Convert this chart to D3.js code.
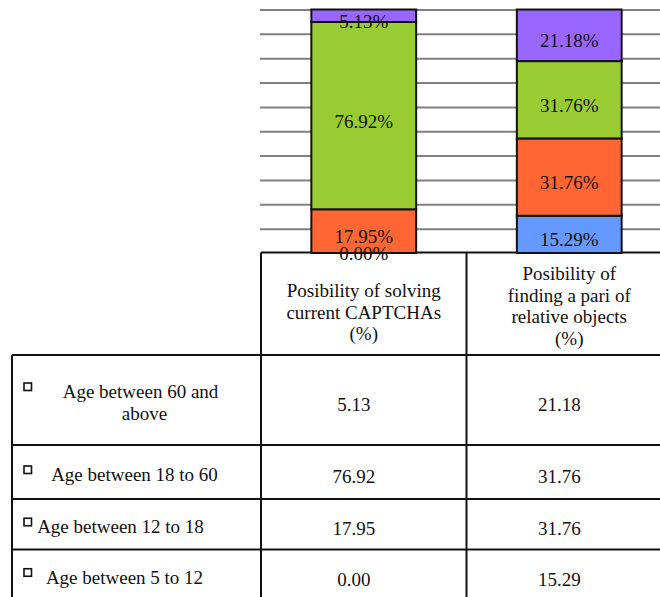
<!DOCTYPE html>
<html>
<head>
<meta charset="utf-8">
<script src="https://cdn.jsdelivr.net/npm/d3@7/dist/d3.min.js"></script>
<style>
  html, body { margin: 0; padding: 0; background: #ffffff; }
  svg { display: block; }
  text { font-family: "Liberation Serif", "Times New Roman", serif; fill: #111; }
</style>
</head>
<body>
<svg id="chart" width="660" height="597" font-family="Liberation Serif, Times New Roman, serif"></svg>
<script>
// ---- data ----
const categories = [
  "Posibility of solving current CAPTCHAs (%)",
  "Posibility of finding a pari of relative objects (%)"
];
const categoryLines = [
  ["Posibility of solving", "current CAPTCHAs", "(%)"],
  ["Posibility of", "finding a pari of", "relative objects", "(%)"]
];
// age groups, listed as in the table (top row first)
const ageGroups = [
  "Age between 60 and above",
  "Age between 18 to 60",
  "Age between 12 to 18",
  "Age between 5 to 12"
];
const ageGroupLines = [
  ["Age between 60 and", "above"],
  ["Age between 18 to 60"],
  ["Age between 12 to 18"],
  ["Age between 5 to 12"]
];
const captchaValues = [5.13, 76.92, 17.95, 0.00];
const pairValues    = [21.18, 31.76, 31.76, 15.29];
const groupColors   = ["#9966FF", "#99CC33", "#FF6633", "#6699FF"];
const yTicks        = [10, 20, 30, 40, 50, 60, 70, 80, 90, 100];

// ---- layout ----
const W = 660;
const plotTop = 9.5, plotBottom = 253;
const gridLeft = 260;
const tableLeft = 12;
const headerTop = 252.5;
const rowEdges = [355, 445, 499, 549.5, 600];
const headerShift = [6, 0];
const labelShift = [4, -2, -16, -12];
const lineH = 21.5;
const fontSize = 19;

const svg = d3.select("#chart");

const seriesByCategory = [captchaValues, pairValues];
const rows = categories.map((c, i) => {
  const r = { category: c };
  ageGroups.forEach((g, j) => { r[g] = seriesByCategory[i][j]; });
  return r;
});

const x = d3.scaleBand()
  .domain(categories)
  .range([261, 672])
  .paddingInner(0.49)
  .paddingOuter(0.245);

const y = d3.scaleLinear().domain([0, 100]).range([plotBottom, plotTop]);

const colLeft = c => x(c) - (x.step() - x.bandwidth()) / 2;
const colCenter = c => x(c) + x.bandwidth() / 2;
const tableRight = colLeft(categories[categories.length - 1]) + x.step();

// ---- gridlines ----
const grid = svg.append("g")
  .attr("transform", `translate(${gridLeft},0)`)
  .call(d3.axisLeft(y).tickValues(yTicks).tickSize(-(W - gridLeft)).tickFormat(""));
grid.select(".domain").remove();
grid.selectAll(".tick line").attr("stroke", "#808080").attr("stroke-width", 2);

// ---- table ----
const tbl = svg.append("g").attr("stroke", "#111").attr("stroke-width", 2).attr("fill", "none");
const colEdges = categories.map(colLeft).concat([tableRight]);

// header row (no cell above the label column)
tbl.append("line").attr("x1", colEdges[0]).attr("x2", tableRight)
  .attr("y1", headerTop).attr("y2", headerTop);
colEdges.forEach(cx => {
  tbl.append("line").attr("x1", cx).attr("x2", cx)
    .attr("y1", headerTop).attr("y2", rowEdges[0]);
});
// body rows
rowEdges.forEach(ry => {
  tbl.append("line").attr("x1", tableLeft).attr("x2", tableRight)
    .attr("y1", ry).attr("y2", ry);
});
[tableLeft].concat(colEdges).forEach(cx => {
  tbl.append("line").attr("x1", cx).attr("x2", cx)
    .attr("y1", rowEdges[0]).attr("y2", rowEdges[rowEdges.length - 1]);
});

// header texts
categories.forEach((c, i) => {
  const lines = categoryLines[i];
  const mid = 312.5 + headerShift[i];
  lines.forEach((ln, k) => {
    svg.append("text")
      .attr("x", colCenter(c))
      .attr("y", mid + (k - (lines.length - 1) / 2) * lineH)
      .attr("text-anchor", "middle")
      .attr("font-size", fontSize)
      .text(ln);
  });
});

// body: legend keys, labels, values
const labelColMid = (tableLeft + colEdges[0]) / 2;
ageGroups.forEach((g, j) => {
  const top = rowEdges[j], bot = rowEdges[j + 1];
  const mid = (top + bot) / 2;
  const lines = ageGroupLines[j];
  const firstBase = mid + 9 - (lines.length - 1) / 2 * 22;
  svg.append("rect")
    .attr("x", 24).attr("y", firstBase - 15)
    .attr("width", 7.5).attr("height", 7.5)
    .attr("fill", "#fff").attr("stroke", "#111").attr("stroke-width", 1.6);
  lines.forEach((ln, k) => {
    svg.append("text")
      .attr("x", labelColMid + labelShift[j] + (k > 0 ? 4 : 0))
      .attr("y", firstBase + k * 22)
      .attr("text-anchor", "middle")
      .attr("font-size", fontSize)
      .text(ln);
  });
  categories.forEach((c, i) => {
    svg.append("text")
      .attr("x", colCenter(c) - 10)
      .attr("y", mid + 11)
      .attr("text-anchor", "middle")
      .attr("font-size", fontSize)
      .text(d3.format(".2f")(seriesByCategory[i][j]));
  });
});

// ---- stacked bars ----
const stackKeys = ageGroups.slice().reverse();
const colorOf = d3.scaleOrdinal().domain(ageGroups).range(groupColors);
const stacked = d3.stack().keys(stackKeys)(rows);

const segs = [];
stacked.forEach(layer => {
  layer.forEach(d => {
    segs.push({ key: layer.key, cat: d.data.category, y0: d[0], y1: d[1], v: d.data[layer.key] });
  });
});

svg.append("g").selectAll("rect").data(segs).join("rect")
  .attr("x", d => x(d.cat))
  .attr("width", x.bandwidth())
  .attr("y", d => y(d.y1))
  .attr("height", d => y(d.y0) - y(d.y1))
  .attr("fill", d => colorOf(d.key))
  .attr("stroke", "#111")
  .attr("stroke-width", 2);

svg.append("g").selectAll("text").data(segs).join("text")
  .attr("x", d => x(d.cat) + x.bandwidth() / 2)
  .attr("y", d => {
    const h = y(d.y0) - y(d.y1);
    const mid = (y(d.y0) + y(d.y1)) / 2;
    return mid + Math.min(12, h / 2 + 7);
  })
  .attr("text-anchor", "middle")
  .attr("font-size", fontSize)
  .text(d => d3.format(".2f")(d.v) + "%");
</script>
</body>
</html>
